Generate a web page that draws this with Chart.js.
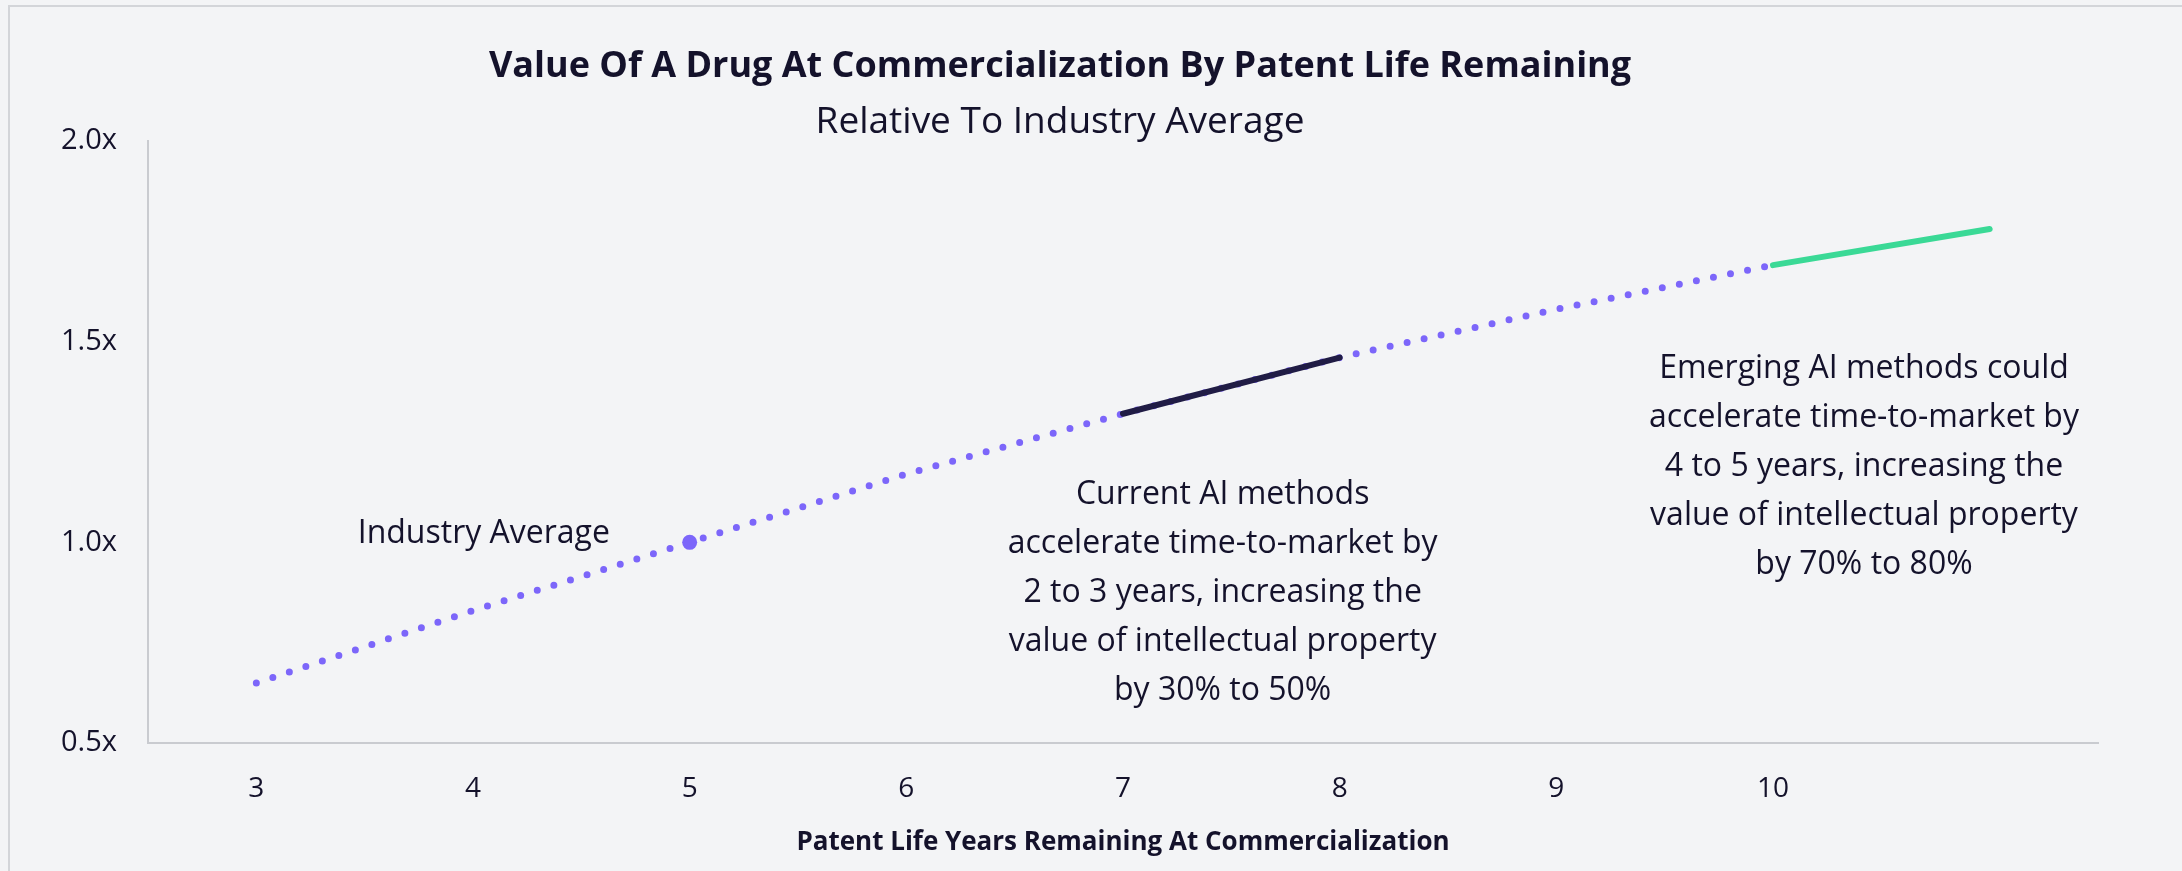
<!DOCTYPE html>
<html>
<head>
  <style>
    html, body {
        margin: 0;
        padding: 0;
        background: #f3f4f6;
        overflow: hidden;
    }

    #frame {
        position: fixed;
        left: 8px;
        top: 5px;
        right: -10px;
        bottom: -10px;
        border-left: 2px solid #d3d5d9;
        border-top: 2px solid #d3d5d9;
        pointer-events: none;
    }

    #chart {
        display: block;
    }
  </style>
</head>
<body>
  <canvas id="chart" width="2182" height="871"></canvas>
  <div id="frame"></div>

  <script src="https://cdn.jsdelivr.net/npm/chart.js"></script>
  <script>
    // patent life remaining at commercialization (years); last slot only carries the green tail
    const years = ['3', '4', '5', '6', '7', '8', '9', '10', ''];

    // relative value vs. industry average
    const patentValue = [0.65, 0.83, 1.0, 1.17, 1.32, 1.46, 1.58, 1.69, null];
    const currentAI = [null, null, null, null, 1.32, 1.46, null, null, null];
    const emergingAI = [null, null, null, null, null, null, null, 1.69, 1.78];
    const industryAverage = [null, null, 1.0, null, null, null, null, null, null];

    const yTicks = [0.5, 1.0, 1.5, 2.0];

    const industryNote = ['Industry Average'];
    const currentNote = [
        'Current AI methods',
        'accelerate time-to-market by',
        '2 to 3 years, increasing the',
        'value of intellectual property',
        'by 30% to 50%'
    ];
    const emergingNote = [
        'Emerging AI methods could',
        'accelerate time-to-market by',
        '4 to 5 years, increasing the',
        'value of intellectual property',
        'by 70% to 80%'
    ];

    const INK = '#14122b';
    const PURPLE = '#7c66fa';
    const NAVY = '#201c45';
    const GREEN = '#3ad996';
    const AXIS = '#c9cbd0';
    const FONT = '"Open Sans"';

    // free text blocks, anchored in data space (category index, value)
    const notes = {
        id: 'notes',
        afterDatasetsDraw(chart, args, opts) {
            const { ctx, scales: { x, y } } = chart;
            ctx.save();
            ctx.font = opts.size + 'px ' + FONT;
            ctx.fillStyle = INK;
            ctx.textAlign = 'center';
            ctx.textBaseline = 'middle';
            opts.items.forEach(n => {
                const px = x.getPixelForValue(n.at[0]);
                const py = y.getPixelForValue(n.at[1]);
                n.lines.forEach((t, i) => ctx.fillText(t, px, py + i * opts.lineGap));
            });
            ctx.restore();
        }
    };

    const ctx = document.getElementById('chart').getContext('2d');
    const chart = new Chart(ctx, {
        type: 'line',
        data: {
            labels: years,
            datasets: [
                {
                    label: 'Industry Average',
                    data: industryAverage,
                    showLine: false,
                    pointRadius: 7.5,
                    pointBorderWidth: 0,
                    pointBackgroundColor: PURPLE,
                },
                {
                    label: 'Current AI',
                    data: currentAI,
                    borderColor: NAVY,
                    borderWidth: 6,
                    borderCapStyle: 'round',
                    pointRadius: 0,
                    tension: 0,
                },
                {
                    label: 'Emerging AI',
                    data: emergingAI,
                    borderColor: GREEN,
                    borderWidth: 6,
                    borderCapStyle: 'round',
                    pointRadius: 0,
                    tension: 0,
                },
                {
                    label: 'Value',
                    data: patentValue,
                    borderColor: PURPLE,
                    borderWidth: 7,
                    borderCapStyle: 'round',
                    borderDash: [0, 17.4],
                    pointRadius: 0,
                    tension: 0,
                },
            ],
        },
        options: {
            responsive: false,
            animation: false,
            layout: {
                padding: { top: 45, left: 22, right: 84, bottom: 13 }
            },
            scales: {
                x: {
                    type: 'category',
                    offset: true,
                    grid: { display: false, drawTicks: false },
                    border: { display: true, color: AXIS, width: 2 },
                    ticks: {
                        color: INK,
                        font: { family: FONT, size: 28 },
                        padding: 29,
                        autoSkip: false,
                        maxRotation: 0,
                    },
                    title: {
                        display: true,
                        text: 'Patent Life Years Remaining At Commercialization',
                        color: INK,
                        font: { family: FONT, size: 26, weight: 'bold' },
                        padding: { top: -8, bottom: 0 },
                    },
                },
                y: {
                    type: 'linear',
                    min: 0.5,
                    max: 2.0,
                    grid: { display: false, drawTicks: false },
                    border: { display: true, color: AXIS, width: 2 },
                    afterBuildTicks: scale => {
                        scale.ticks = yTicks.map(v => ({ value: v }));
                    },
                    afterFit: scale => {
                        scale.width = 126;
                    },
                    ticks: {
                        color: INK,
                        font: { family: FONT, size: 29 },
                        padding: 31,
                        callback: v => v.toFixed(1) + 'x',
                    },
                },
            },
            plugins: {
                legend: { display: false },
                tooltip: { enabled: false },
                title: {
                    display: true,
                    text: 'Value Of A Drug At Commercialization By Patent Life Remaining',
                    color: INK,
                    font: { family: FONT, size: 36, weight: 'bold', lineHeight: 1.2 },
                    padding: { top: 0, bottom: 12 },
                },
                subtitle: {
                    display: true,
                    text: 'Relative To Industry Average',
                    color: INK,
                    font: { family: FONT, size: 37, lineHeight: 1.2 },
                    padding: { top: 0, bottom: -4 },
                },
                notes: {
                    size: 32,
                    lineGap: 49,
                    items: [
                        { lines: industryNote, at: [1.05, 1.022] },
                        { lines: currentNote, at: [4.46, 1.118] },
                        { lines: emergingNote, at: [7.42, 1.432] },
                    ],
                },
            },
        },
        plugins: [notes],
    });
  </script>
</body>
</html>
